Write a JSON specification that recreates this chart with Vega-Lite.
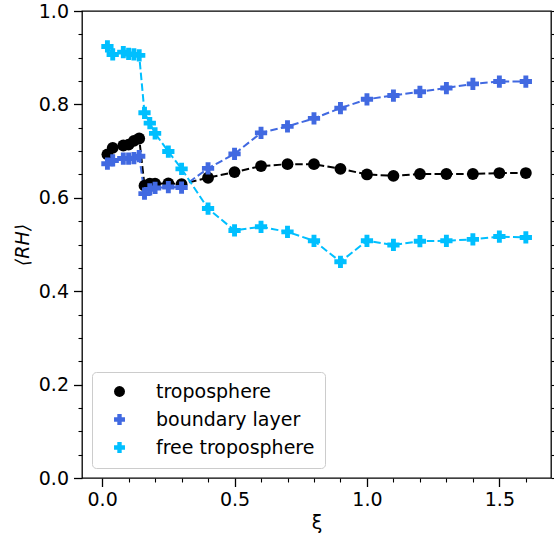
{
  "$schema": "https://vega.github.io/schema/vega-lite/v6.json",
  "width": 469,
  "height": 467,
  "autosize": "none",
  "padding": {"left": 82, "top": 11, "right": 3, "bottom": 59},
  "config": {
    "view": {"stroke": "black", "strokeWidth": 1.3},
    "font": "DejaVu Sans",
    "axis": {
      "labelFont": "DejaVu Sans",
      "labelFontSize": 19,
      "labelColor": "black",
      "tickColor": "black",
      "tickWidth": 1.3,
      "domain": false,
      "grid": false,
      "titleFont": "DejaVu Sans",
      "titleFontSize": 19,
      "titleFontWeight": "normal",
      "titleColor": "black"
    },
    "legend": {
      "orient": "bottom-left",
      "offset": 10,
      "padding": 10,
      "fillColor": "rgba(255,255,255,0.8)",
      "strokeColor": "#cccccc",
      "cornerRadius": 4,
      "labelFont": "DejaVu Sans",
      "labelFontSize": 19,
      "labelColor": "black",
      "symbolSize": 120,
      "symbolOffset": 8,
      "labelOffset": 27,
      "rowPadding": 8
    }
  },
  "data": {
    "values": [
      {"xi": 0.02, "rh": 0.693, "series": "troposphere"},
      {"xi": 0.04, "rh": 0.707, "series": "troposphere"},
      {"xi": 0.08, "rh": 0.712, "series": "troposphere"},
      {"xi": 0.10, "rh": 0.714, "series": "troposphere"},
      {"xi": 0.12, "rh": 0.722, "series": "troposphere"},
      {"xi": 0.14, "rh": 0.727, "series": "troposphere"},
      {"xi": 0.16, "rh": 0.626, "series": "troposphere"},
      {"xi": 0.18, "rh": 0.630, "series": "troposphere"},
      {"xi": 0.20, "rh": 0.630, "series": "troposphere"},
      {"xi": 0.25, "rh": 0.631, "series": "troposphere"},
      {"xi": 0.30, "rh": 0.629, "series": "troposphere"},
      {"xi": 0.40, "rh": 0.643, "series": "troposphere"},
      {"xi": 0.50, "rh": 0.655, "series": "troposphere"},
      {"xi": 0.60, "rh": 0.668, "series": "troposphere"},
      {"xi": 0.70, "rh": 0.672, "series": "troposphere"},
      {"xi": 0.80, "rh": 0.672, "series": "troposphere"},
      {"xi": 0.90, "rh": 0.662, "series": "troposphere"},
      {"xi": 1.00, "rh": 0.650, "series": "troposphere"},
      {"xi": 1.10, "rh": 0.647, "series": "troposphere"},
      {"xi": 1.20, "rh": 0.651, "series": "troposphere"},
      {"xi": 1.30, "rh": 0.651, "series": "troposphere"},
      {"xi": 1.40, "rh": 0.651, "series": "troposphere"},
      {"xi": 1.50, "rh": 0.653, "series": "troposphere"},
      {"xi": 1.60, "rh": 0.653, "series": "troposphere"},
      {"xi": 0.02, "rh": 0.673, "series": "boundary layer"},
      {"xi": 0.04, "rh": 0.680, "series": "boundary layer"},
      {"xi": 0.08, "rh": 0.684, "series": "boundary layer"},
      {"xi": 0.10, "rh": 0.684, "series": "boundary layer"},
      {"xi": 0.12, "rh": 0.685, "series": "boundary layer"},
      {"xi": 0.14, "rh": 0.689, "series": "boundary layer"},
      {"xi": 0.16, "rh": 0.609, "series": "boundary layer"},
      {"xi": 0.18, "rh": 0.618, "series": "boundary layer"},
      {"xi": 0.20, "rh": 0.621, "series": "boundary layer"},
      {"xi": 0.25, "rh": 0.623, "series": "boundary layer"},
      {"xi": 0.30, "rh": 0.622, "series": "boundary layer"},
      {"xi": 0.40, "rh": 0.663, "series": "boundary layer"},
      {"xi": 0.50, "rh": 0.694, "series": "boundary layer"},
      {"xi": 0.60, "rh": 0.739, "series": "boundary layer"},
      {"xi": 0.70, "rh": 0.753, "series": "boundary layer"},
      {"xi": 0.80, "rh": 0.770, "series": "boundary layer"},
      {"xi": 0.90, "rh": 0.792, "series": "boundary layer"},
      {"xi": 1.00, "rh": 0.811, "series": "boundary layer"},
      {"xi": 1.10, "rh": 0.819, "series": "boundary layer"},
      {"xi": 1.20, "rh": 0.827, "series": "boundary layer"},
      {"xi": 1.30, "rh": 0.835, "series": "boundary layer"},
      {"xi": 1.40, "rh": 0.844, "series": "boundary layer"},
      {"xi": 1.50, "rh": 0.849, "series": "boundary layer"},
      {"xi": 1.60, "rh": 0.849, "series": "boundary layer"},
      {"xi": 0.02, "rh": 0.924, "series": "free troposphere"},
      {"xi": 0.04, "rh": 0.907, "series": "free troposphere"},
      {"xi": 0.08, "rh": 0.912, "series": "free troposphere"},
      {"xi": 0.10, "rh": 0.908, "series": "free troposphere"},
      {"xi": 0.12, "rh": 0.907, "series": "free troposphere"},
      {"xi": 0.14, "rh": 0.905, "series": "free troposphere"},
      {"xi": 0.16, "rh": 0.782, "series": "free troposphere"},
      {"xi": 0.18, "rh": 0.760, "series": "free troposphere"},
      {"xi": 0.20, "rh": 0.738, "series": "free troposphere"},
      {"xi": 0.25, "rh": 0.699, "series": "free troposphere"},
      {"xi": 0.30, "rh": 0.662, "series": "free troposphere"},
      {"xi": 0.40, "rh": 0.577, "series": "free troposphere"},
      {"xi": 0.50, "rh": 0.530, "series": "free troposphere"},
      {"xi": 0.60, "rh": 0.538, "series": "free troposphere"},
      {"xi": 0.70, "rh": 0.527, "series": "free troposphere"},
      {"xi": 0.80, "rh": 0.508, "series": "free troposphere"},
      {"xi": 0.90, "rh": 0.463, "series": "free troposphere"},
      {"xi": 1.00, "rh": 0.508, "series": "free troposphere"},
      {"xi": 1.10, "rh": 0.499, "series": "free troposphere"},
      {"xi": 1.20, "rh": 0.507, "series": "free troposphere"},
      {"xi": 1.30, "rh": 0.508, "series": "free troposphere"},
      {"xi": 1.40, "rh": 0.511, "series": "free troposphere"},
      {"xi": 1.50, "rh": 0.517, "series": "free troposphere"},
      {"xi": 1.60, "rh": 0.515, "series": "free troposphere"}
    ]
  },
  "resolve": {"axis": {"x": "independent", "y": "independent"}},
  "layer": [
    {
      "mark": {"type": "line", "strokeWidth": 2, "strokeDash": [7.5, 3.3]},
      "encoding": {
        "x": {
          "field": "xi", "type": "quantitative",
          "scale": {"domain": [-0.076, 1.695], "nice": false, "zero": false},
          "axis": {"orient": "bottom", "values": [0, 0.5, 1, 1.5], "format": ".1f", "tickSize": 8.5, "labelPadding": 4, "title": "ξ", "titlePadding": 4}
        },
        "y": {
          "field": "rh", "type": "quantitative",
          "scale": {"domain": [0, 1], "nice": false},
          "axis": {"orient": "left", "values": [0, 0.2, 0.4, 0.6, 0.8, 1.0], "format": ".1f", "tickSize": 8.5, "labelPadding": 5, "title": "⟨RH⟩", "titleFontStyle": "italic", "titlePadding": 6}
        },
        "stroke": {
          "field": "series", "type": "nominal", "legend": null,
          "scale": {"domain": ["boundary layer", "free troposphere", "troposphere"], "range": ["#4169E1", "#00BFFF", "black"]}
        },
        "order": {"field": "xi", "type": "quantitative"}
      }
    },
    {
      "transform": [{"filter": "datum.series === 'troposphere'"}],
      "mark": {"type": "point", "filled": true, "opacity": 1, "size": 140},
      "encoding": {
        "x": {
          "field": "xi", "type": "quantitative",
          "axis": {"orient": "bottom", "values": [0.1, 0.2, 0.3, 0.4, 0.6, 0.7, 0.8, 0.9, 1.1, 1.2, 1.3, 1.4, 1.6], "labels": false, "tickSize": 4, "tickWidth": 1.1, "title": null}
        },
        "y": {
          "field": "rh", "type": "quantitative",
          "axis": {"orient": "left", "values": [0.05, 0.1, 0.15, 0.25, 0.3, 0.35, 0.45, 0.5, 0.55, 0.65, 0.7, 0.75, 0.85, 0.9, 0.95], "labels": false, "tickSize": 4, "tickWidth": 1.1, "title": null}
        },
        "color": {
          "field": "series", "type": "nominal", "title": null,
          "scale": {"domain": ["troposphere", "boundary layer", "free troposphere"], "range": ["black", "#4169E1", "#00BFFF"]}
        },
        "shape": {
          "field": "series", "type": "nominal", "title": null,
          "scale": {"domain": ["troposphere", "boundary layer", "free troposphere"], "range": ["circle", "cross", "cross"]}
        }
      }
    },
    {
      "transform": [{"filter": "datum.series !== 'troposphere'"}],
      "mark": {"type": "point", "filled": true, "opacity": 1, "size": 150},
      "encoding": {
        "x": {"field": "xi", "type": "quantitative", "axis": null},
        "y": {
          "field": "rh", "type": "quantitative",
          "axis": {"orient": "right", "values": [0, 0.05, 0.1, 0.15, 0.2, 0.25, 0.3, 0.35, 0.4, 0.45, 0.5, 0.55, 0.6, 0.65, 0.7, 0.75, 0.8, 0.85, 0.9, 0.95, 1.0], "labels": false, "tickSize": 3.5, "tickWidth": 1.1, "title": null}
        },
        "color": {"field": "series", "type": "nominal", "title": null},
        "shape": {"field": "series", "type": "nominal", "title": null}
      }
    }
  ]
}
